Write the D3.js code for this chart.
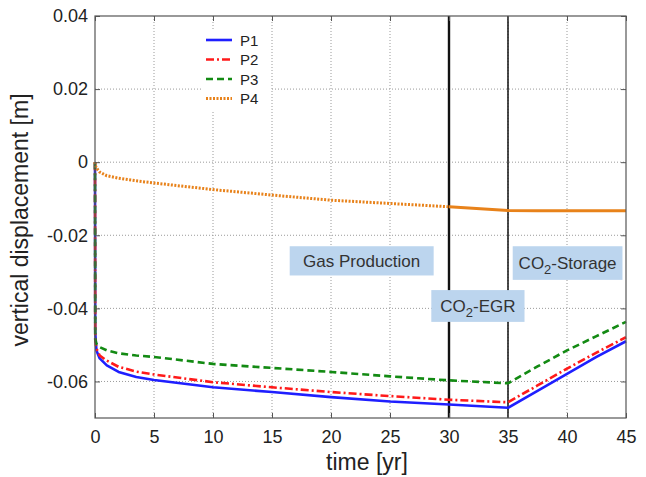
<!DOCTYPE html>
<html>
<head>
<meta charset="utf-8">
<script src="https://cdn.jsdelivr.net/npm/d3@7"></script>
<style>
  html, body { margin: 0; padding: 0; background: #fff; }
  svg { display: block; font-family: "Liberation Sans", Arial, sans-serif; }
</style>
</head>
<body>
<svg id="chart" width="646" height="477"></svg>
<script>
// Time (years) at which displacement was sampled
const time = [0, 0.02, 0.12, 0.4, 1, 2, 3.5, 5, 10, 15, 20, 25, 30, 35, 37.5, 40, 42.5, 45];

// Vertical displacement [m] per observation point
const p1 = [0, -0.0465, -0.0515, -0.0537, -0.0556, -0.0574, -0.0588, -0.0596, -0.0616, -0.0629, -0.0643, -0.0655, -0.0663, -0.0672, -0.0626, -0.0579, -0.0533, -0.0490];
const p2 = [0, -0.0485, -0.0510, -0.0529, -0.0543, -0.0560, -0.0573, -0.0581, -0.0602, -0.0616, -0.0629, -0.0640, -0.0650, -0.0657, -0.0611, -0.0565, -0.0521, -0.0479];
const p3 = [0, -0.0485, -0.0497, -0.0506, -0.0515, -0.0523, -0.0529, -0.0533, -0.0552, -0.0563, -0.0574, -0.0586, -0.0597, -0.0605, -0.0559, -0.0515, -0.0476, -0.0437];
const p4 = [0, -0.0008, -0.0016, -0.0027, -0.0037, -0.0044, -0.0051, -0.0057, -0.0075, -0.0090, -0.0104, -0.0113, -0.0122, -0.0132, -0.0133, -0.0133, -0.0133, -0.0133];

const seriesNames = ["P1", "P2", "P3", "P4"];
const seriesValues = [p1, p2, p3, p4];

const xTicks = [0, 5, 10, 15, 20, 25, 30, 35, 40, 45];
const yTicks = [-0.06, -0.04, -0.02, 0, 0.02, 0.04];

// Phase markers (years) and phase annotations
const phaseLines = [30, 35];
const phaseLabels = [
  { parts: ["Gas Production"], t0: 16.5, t1: 28.7, v0: -0.0230, v1: -0.0310 },
  { parts: ["CO", "2", "-EGR"], t0: 28.5, t1: 36.4, v0: -0.0350, v1: -0.0437 },
  { parts: ["CO", "2", "-Storage"], t0: 35.4, t1: 44.7, v0: -0.0230, v1: -0.0322 }
];

const styles = [
  { color: "#1f1fff", width: 2.6, dash: null },
  { color: "#ff1a1a", width: 2.6, dash: "8,3,2,3" },
  { color: "#138a13", width: 2.6, dash: "7,4" },
  { color: "#e8821a", width: 3, dash: "2,1.5" }
];

const svg = d3.select("#chart");
const plotL = 95, plotR = 626, plotT = 16, plotB = 418;

const x = d3.scaleLinear().domain([0, 45]).range([plotL, plotR]);
const y = d3.scaleLinear().domain([-0.07, 0.04]).range([plotB, plotT]);

// Grid
const grid = svg.append("g");
grid.selectAll(".gx").data(xTicks.filter(d => d > 0 && d < 45)).enter().append("line")
  .attr("x1", d => x(d)).attr("x2", d => x(d)).attr("y1", plotT).attr("y2", plotB)
  .attr("stroke", "#9a9a9a").attr("stroke-width", 1).attr("stroke-dasharray", "1,2");
grid.selectAll(".gy").data(yTicks.filter(d => d < 0.04)).enter().append("line")
  .attr("y1", d => y(d)).attr("y2", d => y(d)).attr("x1", plotL).attr("x2", plotR)
  .attr("stroke", "#9a9a9a").attr("stroke-width", 1).attr("stroke-dasharray", "1,2");

// Legend backdrop hides grid underneath
svg.append("rect").attr("x", 203).attr("y", 29).attr("width", 67).attr("height", 82).attr("fill", "#fff");

// Phase boundaries
svg.selectAll(".phase").data(phaseLines).enter().append("line")
  .attr("x1", d => x(d)).attr("x2", d => x(d)).attr("y1", plotT).attr("y2", plotB)
  .attr("stroke", "#111").attr("stroke-width", (d, i) => i === 0 ? 2.4 : 1.5);

// Series
const lineGen = d3.line().x(d => x(d[0])).y(d => y(d[1]));
seriesValues.forEach((vals, i) => {
  const pts = time.map((t, j) => [t, vals[j]]);
  const st = styles[i];
  if (i === 3) {
    // densely sampled after 30 yr: looks solid there
    const early = pts.filter(p => p[0] <= 30);
    const late = pts.filter(p => p[0] >= 30);
    svg.append("path").attr("d", lineGen(early)).attr("fill", "none")
      .attr("stroke", st.color).attr("stroke-width", st.width).attr("stroke-dasharray", st.dash);
    svg.append("path").attr("d", lineGen(late)).attr("fill", "none")
      .attr("stroke", st.color).attr("stroke-width", st.width);
  } else {
    svg.append("path").attr("d", lineGen(pts)).attr("fill", "none")
      .attr("stroke", st.color).attr("stroke-width", st.width)
      .attr("stroke-dasharray", st.dash).attr("stroke-linejoin", "round");
  }
});

// Phase annotation boxes
phaseLabels.forEach(p => {
  const bx = x(p.t0), bw = x(p.t1) - x(p.t0);
  const by = y(p.v0), bh = y(p.v1) - y(p.v0);
  svg.append("rect").attr("x", bx).attr("y", by).attr("width", bw).attr("height", bh).attr("fill", "#bcd5ee");
  const txt = svg.append("text").attr("x", bx + bw / 2).attr("y", by + bh / 2 + 6)
    .attr("text-anchor", "middle").attr("font-size", 17).attr("fill", "#333");
  p.parts.forEach((s, k) => {
    const ts = txt.append("tspan").text(s);
    if (p.parts.length > 1 && k === 1) ts.attr("font-size", 13).attr("dy", 5);
    if (p.parts.length > 1 && k === 2) ts.attr("dy", -5);
  });
});

// Frame
svg.append("rect").attr("x", plotL).attr("y", plotT).attr("width", plotR - plotL).attr("height", plotB - plotT)
  .attr("fill", "none").attr("stroke", "#555").attr("stroke-width", 1.2);

// Axes with inward ticks on all four sides
const fmtY = d => d === 0 ? "0" : (d < 0 ? "-" : "") + Math.abs(d).toFixed(2);
const axB = svg.append("g").attr("transform", `translate(0,${plotB})`)
  .call(d3.axisBottom(x).tickValues(xTicks).tickSize(-5).tickPadding(12).tickFormat(d3.format("d")));
const axT = svg.append("g").attr("transform", `translate(0,${plotT})`)
  .call(d3.axisTop(x).tickValues(xTicks).tickSize(-5).tickFormat(""));
const axL = svg.append("g").attr("transform", `translate(${plotL},0)`)
  .call(d3.axisLeft(y).tickValues(yTicks).tickSize(-5).tickPadding(7).tickFormat(fmtY));
const axR = svg.append("g").attr("transform", `translate(${plotR},0)`)
  .call(d3.axisRight(y).tickValues(yTicks).tickSize(-5).tickFormat(""));
[axB, axT, axL, axR].forEach(a => {
  a.select(".domain").remove();
  a.selectAll(".tick line").attr("stroke", "#555");
  a.selectAll("text").attr("font-size", 18).attr("fill", "#222")
    .attr("font-family", "'Liberation Sans', Arial, sans-serif");
});

// Axis titles
svg.append("text").attr("x", 367).attr("y", 470).attr("text-anchor", "middle")
  .attr("font-size", 23).attr("fill", "#222").text("time [yr]");
svg.append("text").attr("transform", "translate(28,220) rotate(-90)").attr("text-anchor", "middle")
  .attr("font-size", 23).attr("fill", "#222").text("vertical displacement [m]");

// Legend
const legend = svg.append("g");
seriesNames.forEach((name, i) => {
  const ly = 40 + i * 19.5;
  legend.append("line").attr("x1", 206).attr("x2", 232).attr("y1", ly).attr("y2", ly)
    .attr("stroke", styles[i].color).attr("stroke-width", styles[i].width)
    .attr("stroke-dasharray", styles[i].dash);
  legend.append("text").attr("x", 240).attr("y", ly + 5.5).attr("font-size", 15).attr("fill", "#222").text(name);
});
</script>
</body>
</html>
